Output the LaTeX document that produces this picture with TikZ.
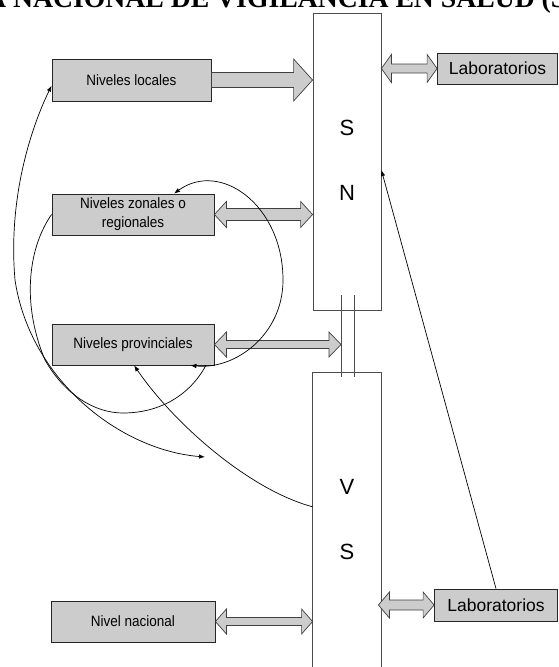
\documentclass[tikz,border=0pt]{standalone}
\usepackage{fontspec}
\setmainfont{Liberation Sans}
\newfontfamily\titlefont{Liberation Serif}
\newfontfamily\boxfont[FakeStretch=0.9]{Liberation Sans}
\usetikzlibrary{calc,arrows.meta}

% horizontal block arrow with one head: from, to, shaft half-height, head half-height, head length
\newcommand\singleblock[5]{%
  \draw[blockarrow] let \p1=(#1), \p2=(#2) in
    (\x1,\y1+#3) -- (\x2-#5,\y1+#3) -- (\x2-#5,\y1+#4) -- (\x2,\y1)
    -- (\x2-#5,\y1-#4) -- (\x2-#5,\y1-#3) -- (\x1,\y1-#3) -- cycle;}
% horizontal block arrow with two heads
\newcommand\doubleblock[5]{%
  \draw[blockarrow] let \p1=(#1), \p2=(#2) in
    (\x1,\y1) -- (\x1+#5,\y1+#4) -- (\x1+#5,\y1+#3) -- (\x2-#5,\y1+#3)
    -- (\x2-#5,\y1+#4) -- (\x2,\y1) -- (\x2-#5,\y1-#4) -- (\x2-#5,\y1-#3)
    -- (\x1+#5,\y1-#3) -- (\x1+#5,\y1-#4) -- cycle;}

\begin{document}
\begin{tikzpicture}[x=1pt,y=-1pt,
  levelbox/.style={draw=black!85, fill=black!20, line width=0.8pt, inner sep=0pt,
    minimum width=#1, minimum height=41pt, align=center,
    font=\boxfont\fontsize{15}{19}\selectfont},
  labbox/.style={draw=black!85, fill=black!20, line width=0.8pt, inner sep=0pt,
    minimum width=#1, minimum height=31pt, font=\fontsize{17.5}{20}\selectfont},
  column/.style={draw=black!70, line width=0.8pt, inner sep=0pt,
    minimum width=68pt, minimum height=#1},
  blockarrow/.style={draw=black!75, fill=black!20, line width=0.7pt, line join=miter},
  letter/.style={font=\fontsize{22}{24}\selectfont},
  flow/.style={draw=black, line width=0.7pt},
  tip/.style={-{Latex[length=6pt,width=4.5pt]}},
  tips/.style={{Latex[length=6pt,width=4.5pt]}-{Latex[length=6pt,width=4.5pt]}}
]
\useasboundingbox (0,0) rectangle (558,667);

% title line
\node[anchor=base west, inner sep=0pt, font=\titlefont\bfseries\fontsize{27.7}{30}\selectfont]
  (title) at (-14,7) {A NACIONAL DE VIGILANCIA EN SALUD (S};

% the two columns
\node[column=297pt] (sn) at (347,161.5) {};
\node[column=294pt, draw=none] (vs) at (347,520) {};
\draw[draw=black!70, line width=0.8pt] (vs.south west) -- (vs.north west) -- (vs.north east) -- (vs.south east);

\node[letter] (s1) at (347,128) {S};
\node[letter] (n1) at (347,193) {N};
\node[letter] (v2) at (347,487) {V};
\node[letter] (s2) at (347,552) {S};

% link between the columns
\coordinate (la) at (341,295);
\coordinate (lb) at (341,377);
\coordinate (lc) at (354,295);
\coordinate (ld) at (354,377);
\draw[draw=black!70, line width=0.8pt] (la) -- (lb) (lc) -- (ld);

% levels
\node[levelbox=159pt, minimum height=42pt] (loc) at (131.5,80) {Niveles locales};
\node[levelbox=162pt] (zon) at (133,214.5) {Niveles zonales o\\regionales};
\node[levelbox=162pt] (prov) at (133,344.5) {Niveles provinciales};
\node[levelbox=164pt] (nac) at (133,621.5) {Nivel nacional};

% laboratories
\node[labbox=120pt] (lab1) at (497.5,68.5) {Laboratorios};
\node[labbox=123pt, minimum height=32pt] (lab2) at (496,605) {Laboratorios};

% block arrows
\singleblock{loc.east}{sn.west |- loc.east}{7.5pt}{21pt}{19pt}
\doubleblock{zon.east}{sn.west |- zon.east}{6pt}{13pt}{12pt}
\doubleblock{prov.east}{la |- prov.east}{4pt}{12.5pt}{12pt}
\doubleblock{nac.east}{vs.west |- nac.east}{4pt}{12.5pt}{11pt}
\doubleblock{sn.east |- lab1.west}{lab1.west}{4.5pt}{14pt}{10pt}
\doubleblock{$(vs.east |- lab2.west)+(-3,0)$}{lab2.west}{5pt}{13pt}{11pt}

% feedback curves
\coordinate (free) at (205,457);
\draw[flow, tip] (lab2.north) -- (sn.-14);
\draw[flow, tip] (vs.159) .. controls (250,490) and (175,425) .. (prov.-87);
\draw[flow, tips] (prov.-20) .. controls (235,370) and (283,335) .. (283,280)
  .. controls (283,205) and (220,160) .. (zon.27);
\draw[flow] (zon.west) .. controls (30,245) and (20,300) .. (45,360)
  .. controls (65,395) and (95,413) .. (123,413)
  .. controls (160,413) and (190,395) .. (prov.-16);
\draw[flow, tips] (free) .. controls (120,450) and (30,380) .. (15,280)
  .. controls (8,200) and (30,130) .. (loc.184);
\end{tikzpicture}
\end{document}
